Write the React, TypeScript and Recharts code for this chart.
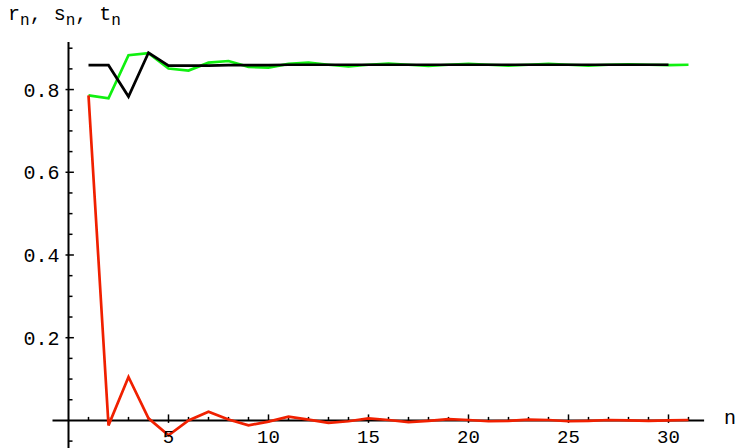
import { LineChart, Line, XAxis, YAxis, ReferenceLine } from 'recharts';

const nValues = [
  1, 2, 3, 4, 5, 6, 7, 8, 9, 10, 11, 12, 13, 14, 15, 16, 17, 18, 19, 20, 21, 22, 23, 24, 25, 26, 27, 28, 29, 30, 31,
];

// green curve
const sSeries = [
  0.786, 0.779, 0.883, 0.888, 0.851, 0.846, 0.865, 0.869, 0.855, 0.853, 0.862, 0.865, 0.86, 0.856, 0.86, 0.863,
  0.86, 0.857, 0.86, 0.862, 0.86, 0.858, 0.86, 0.862, 0.86, 0.858, 0.86, 0.861, 0.86, 0.859, 0.86,
];

// black curve (stops at n = 30)
const tSeries = [
  0.859, 0.859, 0.783, 0.889, 0.858, 0.858, 0.858, 0.859, 0.859, 0.859, 0.86, 0.86, 0.86, 0.86, 0.86, 0.86, 0.86,
  0.86, 0.86, 0.86, 0.86, 0.86, 0.86, 0.86, 0.86, 0.86, 0.86, 0.86, 0.86, 0.86,
];

// red curve
const rSeries = [
  0.786, -0.012, 0.105, 0.005, -0.036, 0.0, 0.021, 0.002, -0.012, -0.003, 0.009, 0.002, -0.006, -0.002, 0.005,
  0.001, -0.004, -0.001, 0.003, 0.001, -0.002, -0.001, 0.002, 0.001, -0.002, -0.001, 0.001, 0.0, -0.001, 0.0, 0.001,
];

const xTicks = [5, 10, 15, 20, 25, 30];
const yTicks = [0.2, 0.4, 0.6, 0.8];
const xMinorTicks = nValues;
const yMinorTicks = [-0.05, 0.05, 0.1, 0.15, 0.2, 0.25, 0.3, 0.35, 0.4, 0.45, 0.5, 0.55, 0.6, 0.65, 0.7, 0.75, 0.8, 0.85, 0.9];

const rows = nValues.map((n, i) => ({ n, s: sSeries[i], t: tSeries[i], r: rSeries[i] }));

const FONT = '"Liberation Mono", "DejaVu Sans Mono", monospace';

// x labels sit just above the bottom edge, under the axis that crosses at y = 0
function XTick(props: any) {
  const { x, payload, plotBottom } = props;
  return (
    <text x={x} y={plotBottom - 5} textAnchor="middle" fontFamily={FONT} fontSize={19} fill="#000">
      {payload.value}
    </text>
  );
}

function YTick(props: any) {
  const { x, y, payload } = props;
  return (
    <text x={x} y={y} dy={7} textAnchor="end" fontFamily={FONT} fontSize={20} fill="#000">
      {payload.value}
    </text>
  );
}

export default function App() {
  const isMajorX = (n: number) => n % 5 === 0;
  const isMajorY = (v: number) => yTicks.some((t) => Math.abs(t - v) < 1e-9);

  return (
    <div style={{ position: 'absolute', left: 0, top: 0, width: 736, height: 448, background: '#fff' }}>
      <LineChart width={736} height={448} data={rows} margin={{ top: 42, right: 27.5, bottom: -30, left: 8.5 }}>
        <XAxis
          dataKey="n"
          type="number"
          domain={[0, 32]}
          allowDataOverflow
          ticks={xTicks}
          axisLine={false}
          tickLine={false}
          tickSize={0}
          tickMargin={0}
          height={30}
          tick={<XTick plotBottom={448} />}
          interval={0}
        />
        <YAxis
          type="number"
          domain={[-0.0667, 0.915]}
          allowDataOverflow
          ticks={yTicks}
          axisLine={false}
          tickLine={false}
          tickSize={0}
          tickMargin={9}
          width={60}
          interval={0}
          tick={<YTick />}
        />
        {/* axes drawn Mathematica-style, crossing at the origin */}
        <ReferenceLine
          segment={[{ x: -0.8, y: 0 }, { x: 31.78, y: 0 }]}
          stroke="#000"
          strokeWidth={2}
          ifOverflow="visible"
        />
        <ReferenceLine x={0} stroke="#000" strokeWidth={2} ifOverflow="visible" />
        {xMinorTicks.map((n) => (
          <ReferenceLine
            key={'xt' + n}
            segment={isMajorX(n) ? [{ x: n, y: -0.006 }, { x: n, y: 0.0145 }] : [{ x: n, y: 0 }, { x: n, y: 0.0085 }]}
            stroke="#000"
            strokeWidth={1.5}
            ifOverflow="visible"
          />
        ))}
        {yMinorTicks.map((v) => (
          <ReferenceLine
            key={'yt' + v}
            segment={isMajorY(v) ? [{ x: -0.15, y: v }, { x: 0.27, y: v }] : [{ x: 0, y: v }, { x: 0.2, y: v }]}
            stroke="#000"
            strokeWidth={1.5}
            ifOverflow="visible"
          />
        ))}
        <Line dataKey="s" stroke="#10f010" strokeWidth={2.7} dot={false} isAnimationActive={false} type="linear" />
        <Line dataKey="t" stroke="#000" strokeWidth={2.7} dot={false} isAnimationActive={false} type="linear" />
        <Line dataKey="r" stroke="#f02000" strokeWidth={2.7} dot={false} isAnimationActive={false} type="linear" />
      </LineChart>
      <div
        style={{
          position: 'absolute',
          left: 8,
          top: 3,
          fontFamily: FONT,
          fontSize: 20,
          lineHeight: '24px',
          whiteSpace: 'nowrap',
        }}
      >
        r<sub style={{ fontSize: 16 }}>n</sub>, s<sub style={{ fontSize: 16 }}>n</sub>, t
        <sub style={{ fontSize: 16 }}>n</sub>
      </div>
      <div
        style={{
          position: 'absolute',
          left: 724,
          top: 407,
          fontFamily: FONT,
          fontSize: 20,
          lineHeight: '24px',
        }}
      >
        n
      </div>
    </div>
  );
}
